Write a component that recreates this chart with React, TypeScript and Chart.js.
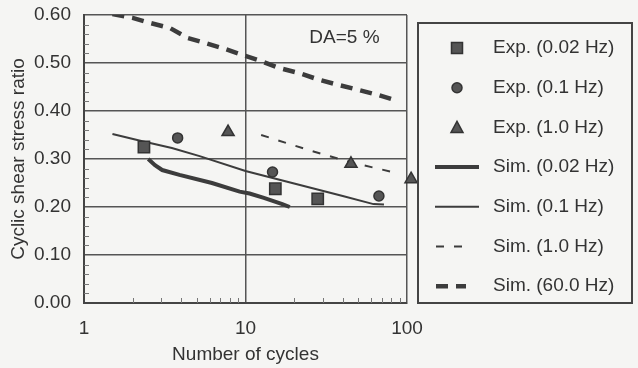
import React, { useEffect, useRef } from 'react';
import { Chart, registerables } from 'chart.js';
Chart.register(...registerables);

// ---- data ----
const xTicks = [1, 10, 100];
const yTicks = [0, 0.1, 0.2, 0.3, 0.4, 0.5, 0.6];

const exp002X = [2.35, 15.3, 28];
const exp002Y = [0.325, 0.238, 0.217];
const exp01X = [3.8, 14.7, 67];
const exp01Y = [0.344, 0.273, 0.223];
const exp10X = [7.8, 45, 106];
const exp10Y = [0.356, 0.29, 0.258];

const sim002X = [2.5, 2.75, 3.05, 3.9, 6.2, 9.2, 10.6, 13, 16.9, 18.8];
const sim002Y = [0.3, 0.287, 0.277, 0.267, 0.25, 0.232, 0.228, 0.219, 0.206, 0.2];
const sim01X = [1.5, 2.3, 3.5, 5.2, 10, 20, 40, 62, 72];
const sim01Y = [0.352, 0.337, 0.323, 0.306, 0.275, 0.249, 0.223, 0.206, 0.205];
const sim10X = [12.5, 25, 45, 81];
const sim10Y = [0.35, 0.318, 0.293, 0.273];
const sim60X = [1.5, 2, 2.6, 3.4, 4.4, 5.6, 7.2, 9.5, 12, 16, 21.5, 28.6, 38, 50, 67, 80];
const sim60Y = [0.602, 0.594, 0.583, 0.573, 0.552, 0.542, 0.531, 0.517, 0.506, 0.49, 0.479, 0.465, 0.454, 0.444, 0.433, 0.425];

const seriesLabels = [
  'Exp. (0.02 Hz)',
  'Exp. (0.1 Hz)',
  'Exp. (1.0 Hz)',
  'Sim. (0.02 Hz)',
  'Sim. (0.1 Hz)',
  'Sim. (1.0 Hz)',
  'Sim. (60.0 Hz)',
];
const annotationText = 'DA=5 %';
const annotationX = 41;
const annotationY = 0.552;
const xTitle = 'Number of cycles';
const yTitle = 'Cyclic shear stress ratio';

const FONT = '"Liberation Sans", Arial, Helvetica, sans-serif';
const FS = 19;
const TEXT = '#333333';
const BG = '#f5f5f3';
const INK = '#3c3c3c';

const pts = (xs: number[], ys: number[]) => xs.map((x, i) => ({ x, y: ys[i] }));

const bgPlugin = {
  id: 'bg',
  beforeDraw(chart: any) {
    const { ctx, width, height } = chart;
    ctx.save();
    ctx.fillStyle = BG;
    ctx.fillRect(0, 0, width, height);
    ctx.restore();
  },
};

const minorPlugin = {
  id: 'minor',
  beforeDatasetsDraw(chart: any) {
    const { ctx, chartArea } = chart;
    const xs = chart.scales.x;
    const ys = chart.scales.y;
    ctx.save();
    ctx.strokeStyle = '#777';
    ctx.lineWidth = 1;
    for (let k = 1; k < 30; k++) {
      if (k % 5 === 0) continue;
      const y = Math.round(ys.getPixelForValue(k * 0.02)) + 0.5;
      ctx.beginPath();
      ctx.moveTo(chartArea.left, y);
      ctx.lineTo(chartArea.left + 5, y);
      ctx.stroke();
    }
    [1, 10].forEach((d) => {
      for (let m = 2; m <= 9; m++) {
        const x = Math.round(xs.getPixelForValue(d * m)) + 0.5;
        ctx.beginPath();
        ctx.moveTo(x, chartArea.bottom);
        ctx.lineTo(x, chartArea.bottom - 5);
        ctx.stroke();
      }
    });
    ctx.fillStyle = TEXT;
    ctx.font = `${FS}px ${FONT}`;
    ctx.textAlign = 'center';
    ctx.textBaseline = 'middle';
    ctx.fillText(annotationText, xs.getPixelForValue(annotationX), ys.getPixelForValue(annotationY));
    ctx.restore();
  },
};

const legendPlugin = {
  id: 'customLegend',
  afterDraw(chart: any) {
    const { ctx } = chart;
    const bx = 418, by = 23, bw = 214, bh = 280;
    ctx.save();
    ctx.fillStyle = BG;
    ctx.fillRect(bx, by, bw, bh);
    ctx.strokeStyle = '#444';
    ctx.lineWidth = 2;
    ctx.strokeRect(bx, by, bw, bh);
    const sx = 457;
    const tx = 493;
    chart.data.datasets.forEach((ds: any, i: number) => {
      const cy = 48 + i * 39.7;
      if (ds.showLine) {
        ctx.strokeStyle = ds.borderColor;
        ctx.lineWidth = ds.borderWidth;
        ctx.setLineDash(ds.borderDash || []);
        const dashed = ds.borderDash && ds.borderDash.length;
        const x0 = dashed ? 436 : 435;
        const x1 = dashed ? 466 : 479;
        ctx.beginPath();
        ctx.moveTo(x0, cy);
        ctx.lineTo(x1, cy);
        ctx.stroke();
        ctx.setLineDash([]);
      } else {
        ctx.fillStyle = ds.backgroundColor;
        ctx.strokeStyle = ds.borderColor;
        ctx.lineWidth = 1.5;
        ctx.beginPath();
        if (ds.pointStyle === 'rect') {
          ctx.rect(sx - 5.5, cy - 5.5, 11, 11);
        } else if (ds.pointStyle === 'circle') {
          ctx.arc(sx, cy, 5, 0, Math.PI * 2);
        } else {
          ctx.moveTo(sx, cy - 6);
          ctx.lineTo(sx + 6, cy + 5);
          ctx.lineTo(sx - 6, cy + 5);
          ctx.closePath();
        }
        ctx.fill();
        ctx.stroke();
      }
      ctx.fillStyle = TEXT;
      ctx.font = `${FS}px ${FONT}`;
      ctx.textAlign = 'left';
      ctx.textBaseline = 'middle';
      ctx.fillText(ds.label, tx, cy);
    });
    ctx.restore();
  },
};

export default function App() {
  const ref = useRef<HTMLCanvasElement | null>(null);
  useEffect(() => {
    if (!ref.current) return;
    const pointDs = (label: string, data: any[], style: string, r: number) => ({
      label,
      data,
      showLine: false,
      pointStyle: style,
      pointRadius: r,
      pointBorderWidth: 1.5,
      backgroundColor: '#555',
      borderColor: '#333',
      pointBackgroundColor: '#555',
      pointBorderColor: '#333',
      clip: false,
    });
    const lineDs = (label: string, data: any[], width: number, dash: number[]) => ({
      label,
      data,
      showLine: true,
      pointRadius: 0,
      borderColor: INK,
      backgroundColor: INK,
      borderWidth: width,
      borderDash: dash,
      tension: 0,
      fill: false,
    });
    const chart = new Chart(ref.current, {
      type: 'scatter',
      data: {
        datasets: [
          pointDs(seriesLabels[0], pts(exp002X, exp002Y), 'rect', 8),
          pointDs(seriesLabels[1], pts(exp01X, exp01Y), 'circle', 5),
          pointDs(seriesLabels[2], pts(exp10X, exp10Y), 'triangle', 7),
          lineDs(seriesLabels[3], pts(sim002X, sim002Y), 4, []),
          lineDs(seriesLabels[4], pts(sim01X, sim01Y), 2, []),
          lineDs(seriesLabels[5], pts(sim10X, sim10Y), 2, [8, 10]),
          lineDs(seriesLabels[6], pts(sim60X, sim60Y), 4.5, [12, 8]),
        ] as any,
      },
      options: {
        animation: false,
        responsive: false,
        layout: { padding: { left: 0, right: 231, top: 15, bottom: 0 } },
        plugins: { legend: { display: false }, tooltip: { enabled: false } },
        scales: {
          x: {
            type: 'logarithmic',
            min: 1,
            max: 100,
            afterBuildTicks: (s: any) => {
              s.ticks = xTicks.map((v) => ({ value: v }));
            },
            afterFit: (s: any) => {
              s.height = 65;
            },
            ticks: {
              callback: (v: any) => String(v),
              font: { family: FONT, size: FS },
              color: TEXT,
              padding: 14,
              maxRotation: 0,
              autoSkip: false,
            },
            grid: { color: '#555', lineWidth: 1.5, drawTicks: false },
            border: { color: '#444', width: 2 },
            title: {
              display: true,
              text: xTitle,
              font: { family: FONT, size: FS },
              color: TEXT,
              padding: { top: 0, bottom: 2 },
            },
          },
          y: {
            min: 0,
            max: 0.6,
            afterBuildTicks: (s: any) => {
              s.ticks = yTicks.map((v) => ({ value: v }));
            },
            afterFit: (s: any) => {
              s.width = 84;
            },
            ticks: {
              callback: (v: any) => Number(v).toFixed(2),
              font: { family: FONT, size: FS },
              color: TEXT,
              padding: 0,
            },
            grid: {
              color: '#555',
              lineWidth: 1.5,
              drawTicks: true,
              tickLength: 13,
              tickColor: 'rgba(0,0,0,0)',
            },
            border: { color: '#444', width: 2 },
            title: {
              display: true,
              text: yTitle,
              font: { family: FONT, size: FS },
              color: TEXT,
              padding: { top: 7, bottom: 0 },
            },
          },
        },
      } as any,
      plugins: [bgPlugin, minorPlugin, legendPlugin],
    });
    return () => chart.destroy();
  }, []);
  return (
    <div style={{ position: 'fixed', left: 0, top: 0, width: 638, height: 368 }}>
      <canvas ref={ref} width={638} height={368} style={{ display: 'block' }} />
    </div>
  );
}
